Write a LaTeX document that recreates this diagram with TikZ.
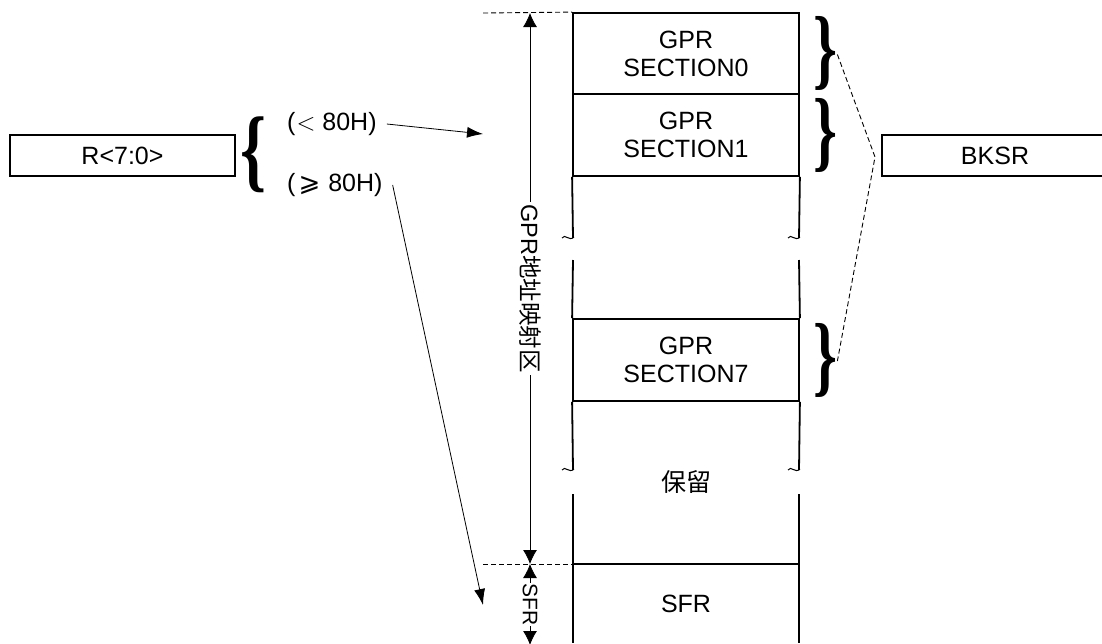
\documentclass[tikz,border=0pt]{standalone}
\usepackage{graphicx}
\usepackage{fontspec}
\setmainfont{Liberation Sans}
\newfontfamily\cjk{Noto Sans CJK SC}
\newfontfamily\bracefont{Liberation Serif}
\newfontfamily\symfont{DejaVu Sans}
\usetikzlibrary{arrows.meta}
\newcommand{\tallrbrace}{\resizebox*{24pt}{74pt}{\bracefont\bfseries\}}}
\newcommand{\talllbrace}{\resizebox*{26pt}{76pt}{\bracefont\bfseries\{}}
\begin{document}
\begin{tikzpicture}[x=1pt,y=-1pt,
  every node/.style={font=\fontsize{25}{28}\selectfont, text=black},
  colline/.style={line width=1.8pt},
  sec/.style={draw, line width=1.8pt, minimum width=226pt, minimum height=81pt, align=center, inner sep=0pt},
  regbox/.style={draw, line width=1.6pt, minimum width=225pt, minimum height=41pt, inner sep=0pt},
  arr/.style={line width=0.8pt, -{Latex[length=16pt,width=11pt]}},
  dimarr/.style={line width=0.8pt, {Latex[length=14pt,width=14pt]}-{Latex[length=14pt,width=14pt]}},
  dline/.style={line width=0.9pt, dash pattern=on 5pt off 3pt},
  bracenode/.style={inner sep=0pt},
  tildemark/.style={line width=1pt}
]
\useasboundingbox (0,0) rectangle (1102,643);

% register boxes
\node[regbox] (R) at (122.5,155.5) {R<7:0>};
\node[regbox, minimum width=226pt] (BKSR) at (995,155.5) {BKSR};

% left brace and labels
\node[bracenode, anchor=east] (lb) at (267,155) {\talllbrace};
\node[anchor=west, inner sep=0pt] (t1) at (287,124) {(\kern1pt$<$ 80H)};
\node[anchor=west, inner sep=0pt] (t2) at (287,185) {(\kern3pt{\symfont\fontsize{26}{28}\selectfont ⩾}\kern1pt{} 80H)};
\coordinate (e1) at (483,134);
\coordinate (e2) at (483,605);
\draw[arr] ([xshift=10pt]t1.east) -- (e1);
\draw[arr] ([xshift=10pt]t2.east) -- (e2);

% memory column sections
\node[sec] (s0) at (686,53.5) {GPR\\SECTION0};
\node[sec, minimum height=82pt] (s1) at (686,135) {GPR\\SECTION1};
\node[sec, minimum height=82pt] (s7) at (686,360) {GPR\\SECTION7};
\node (res) at (686,482) {\cjk 保留};
\node (sfr) at (686,604) {SFR};

% column walls
\draw[colline] (s1.south west) -- (573,238);
\draw[colline] (s1.south east) -- (799,238);
\draw[colline] (573,260) -- (s7.north west);
\draw[colline] (799,260) -- (s7.north east);
\draw[colline] (s7.south west) -- (573,470);
\draw[colline] (s7.south east) -- (799,470);
\draw[colline] (573,494) -- (573,643);
\draw[colline] (799,494) -- (799,643);
\draw[colline] (573,564) -- (799,564);

% break marks
\foreach \bx/\by in {562/238, 788/238, 562/470, 788/470}{
  \draw[tildemark] (\bx,\by) .. controls (\bx+3,\by-5) and (\bx+7,\by+4) .. (\bx+12,\by-1);
}

% dashed guides
\coordinate (dtop) at (483,13);
\coordinate (dsfr) at (483,564);
\draw[dline] (dtop) -- (s0.north west);
\draw[dline] (dsfr) -- (573,564);

% dimension arrows
\coordinate (gtop) at (530,13);
\coordinate (gbot) at (530,564);
\coordinate (sbot) at (530,645);
\draw[dimarr] (gtop) -- node[fill=white, rotate=-90, inner sep=2pt, font=\fontsize{23.5}{26}\selectfont] {GPR{\cjk 地址映射区}} (gbot);
\draw[dimarr] (gbot) -- node[fill=white, rotate=-90, inner sep=0.5pt, font=\fontsize{21}{24}\selectfont] {SFR} (sbot);

% right braces
\node[bracenode, anchor=west] (b0) at (813,53.5) {\tallrbrace};
\node[bracenode, anchor=west] (b1) at (813,135) {\tallrbrace};
\node[bracenode, anchor=west] (b7) at (813,360) {\tallrbrace};
\coordinate (meet) at (875,157);
\draw[dline] ([yshift=-1pt]b0.east) -- (meet) -- ([yshift=-1pt]b7.east);
\end{tikzpicture}
\end{document}
